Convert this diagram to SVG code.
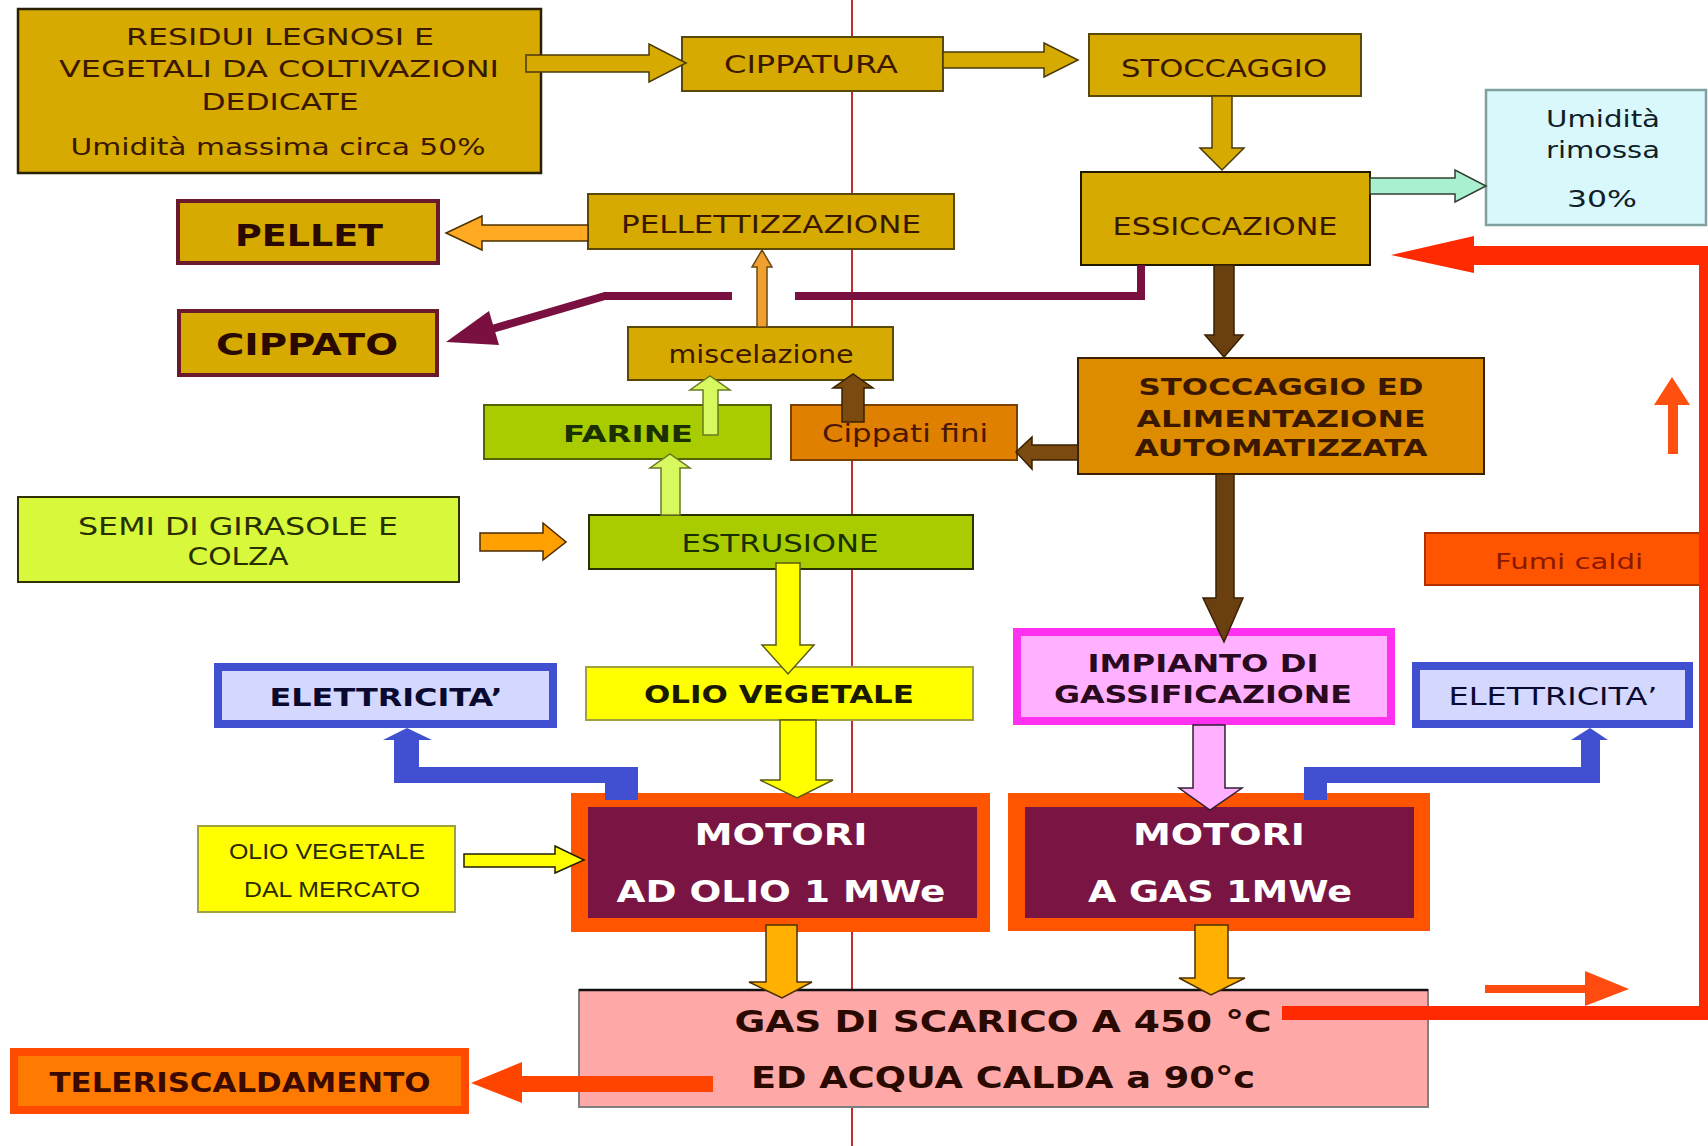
<svg xmlns="http://www.w3.org/2000/svg" width="1708" height="1146" viewBox="0 0 1708 1146">
<style>
text{font-family:"DejaVu Sans","Verdana",sans-serif;text-anchor:middle}
.b{font-weight:bold}
.gold{fill:#d6aa00;stroke:#5a4808;stroke-width:2}
.tg{fill:#3a1800}
.green{fill:#a8cc00;stroke:#556400;stroke-width:2}
.tgr{fill:#1a3000}
.elec{fill:#d4d8ff;stroke:#4050d0;stroke-width:8}
.telec{fill:#0a0a30}
.yel{fill:#ffff00;stroke:#a0a040;stroke-width:2}
.mot-o{fill:#ff5500}
.mot-i{fill:#7a1442}
.tw{fill:#ffffff}
.ag{fill:#d6aa00;stroke:#4a3a08;stroke-width:1.5}
.ao{fill:#ffaa22;stroke:#4a3000;stroke-width:1.5}
.alg{fill:#d8f860;stroke:#6a7a20;stroke-width:1.5}
.abr{fill:#7a4a10;stroke:#3a2000;stroke-width:1.5}
.ay{fill:#ffff00;stroke:#5a5a10;stroke-width:1.5}
.aam{fill:#ffb000;stroke:#4a3000;stroke-width:1.5}
.blue{fill:#4050d0}
</style>

<line x1="852" y1="0" x2="852" y2="1146" stroke="#c03030" stroke-width="2"/>

<g id="residui">
<rect x="18" y="9" width="523" height="164" fill="#d6aa00" stroke="#2a2000" stroke-width="2.5"/>
<text x="280" y="45" font-size="23" textLength="308" lengthAdjust="spacingAndGlyphs" class="tg">RESIDUI LEGNOSI E</text>
<text x="279" y="77" font-size="23" textLength="440" lengthAdjust="spacingAndGlyphs" class="tg">VEGETALI DA COLTIVAZIONI</text>
<text x="280" y="110" font-size="23" textLength="157" lengthAdjust="spacingAndGlyphs" class="tg">DEDICATE</text>
<text x="278" y="155" font-size="23" textLength="415" lengthAdjust="spacingAndGlyphs" class="tg">Umidità massima circa 50%</text>
</g>

<g id="cippatura">
<rect x="682" y="37" width="261" height="54" class="gold"/>
<text x="811" y="73" font-size="24" textLength="174" lengthAdjust="spacingAndGlyphs" class="tg">CIPPATURA</text>
</g>

<g id="stoccaggio">
<rect x="1089" y="34" width="272" height="62" class="gold"/>
<text x="1224" y="77" font-size="25" textLength="206" lengthAdjust="spacingAndGlyphs" class="tg">STOCCAGGIO</text>
</g>

<g id="essiccazione">
<rect x="1081" y="172" width="289" height="93" fill="#d6aa00" stroke="#201800" stroke-width="2"/>
<text x="1225" y="235" font-size="24" textLength="225" lengthAdjust="spacingAndGlyphs" class="tg">ESSICCAZIONE</text>
</g>

<g id="umidita">
<rect x="1486" y="90" width="220" height="135" fill="#d8f8fc" stroke="#80a0a0" stroke-width="2.5"/>
<text x="1603" y="127" font-size="23" textLength="114" lengthAdjust="spacingAndGlyphs" fill="#102028">Umidità</text>
<text x="1603" y="158" font-size="23" textLength="114" lengthAdjust="spacingAndGlyphs" fill="#102028">rimossa</text>
<text x="1602" y="207" font-size="23" textLength="70" lengthAdjust="spacingAndGlyphs" fill="#102028">30%</text>
</g>

<g id="pellettizzazione">
<rect x="588" y="194" width="366" height="55" class="gold"/>
<text x="771" y="233" font-size="24" textLength="300" lengthAdjust="spacingAndGlyphs" class="tg">PELLETTIZZAZIONE</text>
</g>

<g id="pellet">
<rect x="178" y="201" width="260" height="62" fill="#d6aa00" stroke="#6a1a2a" stroke-width="4"/>
<text x="309" y="246" font-size="31" textLength="148" lengthAdjust="spacingAndGlyphs" class="b" fill="#2a0a00">PELLET</text>
</g>

<g id="cippato">
<rect x="179" y="311" width="258" height="64" fill="#d6aa00" stroke="#6a1a2a" stroke-width="4"/>
<text x="307" y="355" font-size="30" textLength="182" lengthAdjust="spacingAndGlyphs" class="b" fill="#2a0a00">CIPPATO</text>
</g>

<g id="miscelazione">
<rect x="628" y="327" width="265" height="53" class="gold"/>
<text x="761" y="363" font-size="24" textLength="185" lengthAdjust="spacingAndGlyphs" class="tg">miscelazione</text>
</g>

<g id="farine">
<rect x="484" y="405" width="287" height="54" class="green"/>
<text x="628" y="442" font-size="23" textLength="130" lengthAdjust="spacingAndGlyphs" class="b tgr">FARINE</text>
</g>

<g id="cippati-fini">
<rect x="791" y="405" width="226" height="55" fill="#e08000" stroke="#7a4000" stroke-width="2"/>
<text x="905" y="442" font-size="25" textLength="166" lengthAdjust="spacingAndGlyphs" fill="#4a1800">Cippati fini</text>
</g>

<g id="stoccaggio-ed">
<rect x="1078" y="358" width="406" height="116" fill="#dd8c00" stroke="#3a2000" stroke-width="2"/>
<text x="1281" y="395" font-size="23" textLength="285" lengthAdjust="spacingAndGlyphs" class="b tg">STOCCAGGIO ED</text>
<text x="1281" y="427" font-size="23" textLength="289" lengthAdjust="spacingAndGlyphs" class="b tg">ALIMENTAZIONE</text>
<text x="1281" y="456" font-size="23" textLength="293" lengthAdjust="spacingAndGlyphs" class="b tg">AUTOMATIZZATA</text>
</g>

<g id="semi">
<rect x="18" y="497" width="441" height="85" fill="#d8f83c" stroke="#303000" stroke-width="2"/>
<text x="238" y="535" font-size="24" textLength="320" lengthAdjust="spacingAndGlyphs" fill="#283000">SEMI DI GIRASOLE E</text>
<text x="238" y="565" font-size="24" textLength="101" lengthAdjust="spacingAndGlyphs" fill="#283000">COLZA</text>
</g>

<g id="estrusione">
<rect x="589" y="515" width="384" height="54" fill="#a8cc00" stroke="#2a3000" stroke-width="2"/>
<text x="780" y="552" font-size="24" textLength="197" lengthAdjust="spacingAndGlyphs" class="tgr">ESTRUSIONE</text>
</g>

<g id="elettricita-sx">
<rect x="218" y="667" width="335" height="57" class="elec"/>
<text x="386" y="706" font-size="24" textLength="233" lengthAdjust="spacingAndGlyphs" class="b telec">ELETTRICITA’</text>
</g>

<g id="olio-vegetale">
<rect x="586" y="667" width="387" height="53" class="yel"/>
<text x="779" y="703" font-size="24" textLength="270" lengthAdjust="spacingAndGlyphs" class="b" fill="#1a1a00">OLIO VEGETALE</text>
</g>

<g id="impianto">
<rect x="1017" y="632" width="374" height="89" fill="#ffb0ff" stroke="#ff30f0" stroke-width="8"/>
<text x="1203" y="672" font-size="24" textLength="231" lengthAdjust="spacingAndGlyphs" class="b" fill="#2a0a20">IMPIANTO DI</text>
<text x="1203" y="703" font-size="24" textLength="298" lengthAdjust="spacingAndGlyphs" class="b" fill="#2a0a20">GASSIFICAZIONE</text>
</g>

<g id="elettricita-dx">
<rect x="1416" y="666" width="273" height="58" class="elec"/>
<text x="1553" y="705" font-size="24" textLength="209" lengthAdjust="spacingAndGlyphs" class="telec">ELETTRICITA’</text>
</g>

<g id="fumi-caldi">
<rect x="1425" y="533" width="285" height="52" fill="#ff5500" stroke="#b03000" stroke-width="2"/>
<text x="1569" y="569" font-size="22" textLength="148" lengthAdjust="spacingAndGlyphs" fill="#8a1800">Fumi caldi</text>
</g>

<g id="motori-olio">
<rect x="571" y="793" width="419" height="139" class="mot-o"/>
<rect x="588" y="807" width="389" height="111" class="mot-i"/>
<text x="781" y="845" font-size="30" textLength="173" lengthAdjust="spacingAndGlyphs" class="b tw">MOTORI</text>
<text x="781" y="902" font-size="30" textLength="329" lengthAdjust="spacingAndGlyphs" class="b tw">AD OLIO 1 MWe</text>
</g>

<g id="motori-gas">
<rect x="1008" y="793" width="422" height="138" class="mot-o"/>
<rect x="1025" y="807" width="389" height="111" class="mot-i"/>
<text x="1219" y="845" font-size="30" textLength="172" lengthAdjust="spacingAndGlyphs" class="b tw">MOTORI</text>
<text x="1220" y="902" font-size="30" textLength="264" lengthAdjust="spacingAndGlyphs" class="b tw">A GAS 1MWe</text>
</g>

<g id="olio-mercato">
<rect x="198" y="826" width="257" height="86" class="yel"/>
<text x="327" y="859" font-size="22" textLength="196" lengthAdjust="spacingAndGlyphs" style="font-family:'Liberation Sans',Arial,sans-serif" fill="#2a2a00">OLIO VEGETALE</text>
<text x="332" y="897" font-size="22" textLength="176" lengthAdjust="spacingAndGlyphs" style="font-family:'Liberation Sans',Arial,sans-serif" fill="#2a2a00">DAL MERCATO</text>
</g>

<g id="gas-scarico">
<rect x="579" y="990" width="849" height="117" fill="#ffa8a8" stroke="#808080" stroke-width="2"/>
<line x1="579" y1="990" x2="1428" y2="990" stroke="#101010" stroke-width="2.5"/>
<text x="1003" y="1032" font-size="30" textLength="537" lengthAdjust="spacingAndGlyphs" class="b" fill="#2a0a00">GAS DI SCARICO A 450 °C</text>
<text x="1003" y="1088" font-size="30" textLength="504" lengthAdjust="spacingAndGlyphs" class="b" fill="#2a0a00">ED ACQUA CALDA a 90°c</text>
</g>

<g id="teleriscaldamento">
<rect x="14" y="1052" width="451" height="58" fill="#ff7a00" stroke="#ff4a00" stroke-width="8"/>
<text x="240" y="1092" font-size="26" textLength="381" lengthAdjust="spacingAndGlyphs" class="b" fill="#3a0a00">TELERISCALDAMENTO</text>
</g>

<g id="connectors">
<polygon class="ag" points="526,55 649,55 649,44 686,63 649,82 649,72 526,72"/>
<polygon class="ag" points="943,52 1044,52 1044,43 1078,60 1044,77 1044,68 943,68"/>
<polygon class="ag" points="1212,96 1232,96 1232,148 1244,148 1222,170 1200,148 1212,148"/>
<polygon fill="#a8f0d0" stroke="#304030" stroke-width="1.5" points="1370,178 1455,178 1455,170 1486,186 1455,202 1455,194 1370,194"/>
<polygon fill="#ff2a00" points="1282,1006 1699,1006 1699,265 1474,265 1474,273 1391,255 1474,236 1474,246 1708,246 1708,1020 1282,1020"/>
<polygon fill="#ff4a10" points="1485,985 1585,985 1585,971 1629,989 1585,1006 1585,993 1485,993"/>
<polygon fill="#ff5010" points="1668,454 1668,405 1654,405 1672,377 1690,405 1678,405 1678,454"/>
<polygon class="ao" points="588,225 482,225 482,216 446,233 482,250 482,241 588,241"/>
<path d="M1141,265 V296 H795 M732,296 H605 L492,329" fill="none" stroke="#7a1040" stroke-width="8"/>
<polygon fill="#7a1040" points="446,342 489,311 499,345"/>
<polygon fill="#f0a030" stroke="#6a4a10" stroke-width="1.5" points="757,327 757,267 752,267 762,250 772,267 767,267 767,327"/>
<polygon class="alg" points="703,435 703,390 690,390 710,376 730,390 718,390 718,435"/>
<polygon class="alg" points="661,515 661,468 650,468 670,454 690,468 680,468 680,515"/>
<polygon class="abr" points="842,422 842,388 833,388 853,374 873,388 864,388 864,422"/>
<polygon class="abr" points="1078,445 1032,445 1032,437 1016,452 1032,469 1032,460 1078,460"/>
<polygon class="abr" points="1214,265 1234,265 1234,335 1243,335 1224,357 1205,335 1214,335" style="fill:#6a4010"/>
<polygon class="abr" points="1216,474 1234,474 1234,598 1243,598 1224,642 1203,598 1216,598" style="fill:#6a4010"/>
<polygon fill="#ffa000" stroke="#4a2a00" stroke-width="1.5" points="480,533 543,533 543,523 566,542 543,560 543,551 480,551"/>
<polygon class="ay" points="776,563 800,563 800,645 814,645 788,674 762,645 776,645"/>
<polygon class="ay" points="780,720 816,720 816,780 833,780 797,798 760,780 780,780"/>
<polygon class="ay" points="464,854 555,854 555,846 584,860 555,873 555,867 464,867" style="stroke:#202000"/>
<polygon class="aam" points="766,925 797,925 797,982 812,982 782,998 749,982 766,982"/>
<polygon fill="#ffb0ff" stroke="#302030" stroke-width="1.5" points="1193,725 1225,725 1225,788 1242,788 1210,810 1179,788 1193,788"/>
<polygon class="aam" points="1195,925 1228,925 1228,978 1245,978 1211,995 1179,978 1195,978"/>
<polygon class="blue" points="394,738 419,738 419,767 638,767 638,800 605,800 605,783 394,783"/>
<polygon class="blue" points="383,740 432,740 407,728"/>
<polygon class="blue" points="1304,800 1304,767 1581,767 1581,738 1600,738 1600,783 1327,783 1327,800"/>
<polygon class="blue" points="1571,740 1608,740 1590,728"/>
<polygon fill="#ff4400" points="713,1076 522,1076 522,1062 471,1083 522,1103 522,1092 713,1092"/>
</g>
</svg>
